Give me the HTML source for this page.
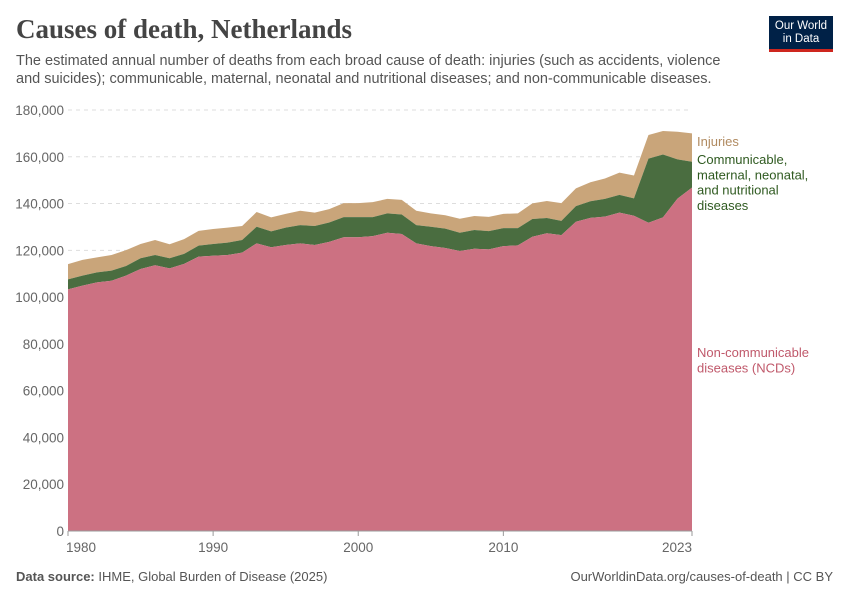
<!DOCTYPE html>
<html><head><meta charset="utf-8"><style>
body{margin:0;background:#fff;font-family:"Liberation Sans",sans-serif;}
#wrap{position:relative;width:850px;height:600px;overflow:hidden;}
.t{position:absolute;white-space:nowrap;}
</style></head><body>
<div id="wrap">
<div class="t" style="left:16px;top:14px;font-family:'Liberation Serif',serif;font-size:27px;font-weight:bold;color:#444;">Causes of death, Netherlands</div>
<div class="t" style="left:16px;top:52px;font-size:14.5px;line-height:18px;color:#555;">The estimated annual number of deaths from each broad cause of death: injuries (such as accidents, violence<br>and suicides); communicable, maternal, neonatal and nutritional diseases; and non-communicable diseases.</div>
<div style="position:absolute;left:769px;top:16px;width:64px;height:36px;background:#002147;border-bottom:3px solid #ce261e;box-sizing:border-box;color:#fff;font-size:11.5px;line-height:13px;text-align:center;padding-top:4px;">Our World<br>in Data</div>
<svg id="chart" width="850" height="600" style="position:absolute;left:0;top:0"></svg>
<div class="t" style="left:16px;top:569px;font-size:13px;color:#555;"><b>Data source:</b> IHME, Global Burden of Disease (2025)</div>
<div class="t" style="right:17px;top:569px;font-size:13px;color:#555;">OurWorldinData.org/causes-of-death | CC BY</div>
</div>
<script>
const years=[1980,1981,1982,1983,1984,1985,1986,1987,1988,1989,1990,1991,1992,1993,1994,1995,1996,1997,1998,1999,2000,2001,2002,2003,2004,2005,2006,2007,2008,2009,2010,2011,2012,2013,2014,2015,2016,2017,2018,2019,2020,2021,2022,2023];
const ncd=[103.3,104.9,106.3,107.0,109.2,112.0,113.6,112.3,114.2,117.3,117.7,118.0,119.0,123.0,121.3,122.3,123.0,122.3,123.6,125.6,125.6,126.1,127.5,127.0,123.0,121.8,121.0,119.7,120.7,120.4,121.8,122.1,125.8,127.3,126.5,132.2,133.9,134.4,136.1,134.8,131.8,134.1,142.1,146.8];
const communicable=[4.3,4.3,4.3,4.3,4.1,4.6,4.4,4.3,4.3,4.7,5.0,5.3,5.4,7.1,6.8,7.4,7.8,8.1,8.3,8.6,8.6,8.1,8.3,8.3,7.8,8.3,8.3,7.8,8.0,7.8,7.7,7.4,7.6,6.5,6.1,6.7,7.1,7.6,7.6,7.4,27.4,26.9,16.8,11.1];
const injuries=[6.5,6.7,6.4,6.7,6.8,6.1,6.4,6.0,6.3,6.3,6.4,6.4,6.0,6.3,6.0,5.9,6.1,5.7,5.7,6.0,6.0,6.4,6.2,6.3,6.1,5.7,5.7,6.0,6.0,6.1,6.1,6.3,6.7,7.3,7.6,7.6,8.1,8.7,9.5,9.8,10.1,10.0,11.8,12.1];
const yTicks=[0,20,40,60,80,100,120,140,160,180];
const xTicks=[1980,1990,2000,2010,2023];
const NS="http://www.w3.org/2000/svg";
const svg=document.getElementById('chart');
const x=v=>68+(v-1980)*(692-68)/43;
const y=v=>531-v*(531-110)/180;
function mk(t,a){const e=document.createElementNS(NS,t);for(const k in a)e.setAttribute(k,a[k]);svg.appendChild(e);return e;}
yTicks.forEach(t=>{
 if(t>0){const g=mk('line',{x1:68,x2:692,y1:y(t),y2:y(t),stroke:'#ddd','stroke-dasharray':'4,4'});
 
 }
 const l=mk('text',{x:64,y:y(t)+5,'text-anchor':'end','font-size':13.5,fill:'#666','font-family':'Liberation Sans'});
 l.textContent=t===0?'0':(t*1000).toLocaleString('en-US');
 
 
});
const b1=ncd, b2=ncd.map((v,i)=>v+communicable[i]), b3=b2.map((v,i)=>v+injuries[i]);
function area(top,bot,fill,name){
 let d='M'+years.map((yr,i)=>x(yr)+','+y(top[i])).join('L');
 for(let i=years.length-1;i>=0;i--)d+='L'+x(years[i])+','+y(bot?bot[i]:0);
 const p=mk('path',{d:d+'Z',fill:fill});
 
 
}
area(b3,b2,'#c9a57a','injuries-area');
area(b2,b1,'#4a6d40','communicable-area');
area(b1,null,'#cc7182','ncd-area');
const ax=mk('line',{x1:68,x2:692,y1:531,y2:531,stroke:'#999'});


xTicks.forEach((t,i)=>{
 const tk=mk('line',{x1:x(t),x2:x(t),y1:531,y2:536,stroke:'#999'});
 
 
 const anchor=i===0?'start':(i===xTicks.length-1?'end':'middle');
 const l=mk('text',{x:i===0?x(t)-2:x(t),y:552,'text-anchor':anchor,'font-size':13.5,fill:'#666','font-family':'Liberation Sans'});
 l.textContent=t;
 
 
});
function lab(lines,y0,col,name){
 const t=mk('text',{x:697,y:y0,'font-size':13,fill:col,'font-family':'Liberation Sans'});
 lines.forEach((s,i)=>{const ts=document.createElementNS(NS,'tspan');ts.setAttribute('x',697);ts.setAttribute('dy',i?15.3:0);ts.textContent=s;t.appendChild(ts);});
 
 
}
lab(['Injuries'],146,'#b08a60','legend-injuries');
lab(['Communicable,','maternal, neonatal,','and nutritional','diseases'],164,'#2f5a20','legend-communicable');
lab(['Non-communicable','diseases (NCDs)'],357,'#c0596b','legend-ncd');
</script>
</body></html>
